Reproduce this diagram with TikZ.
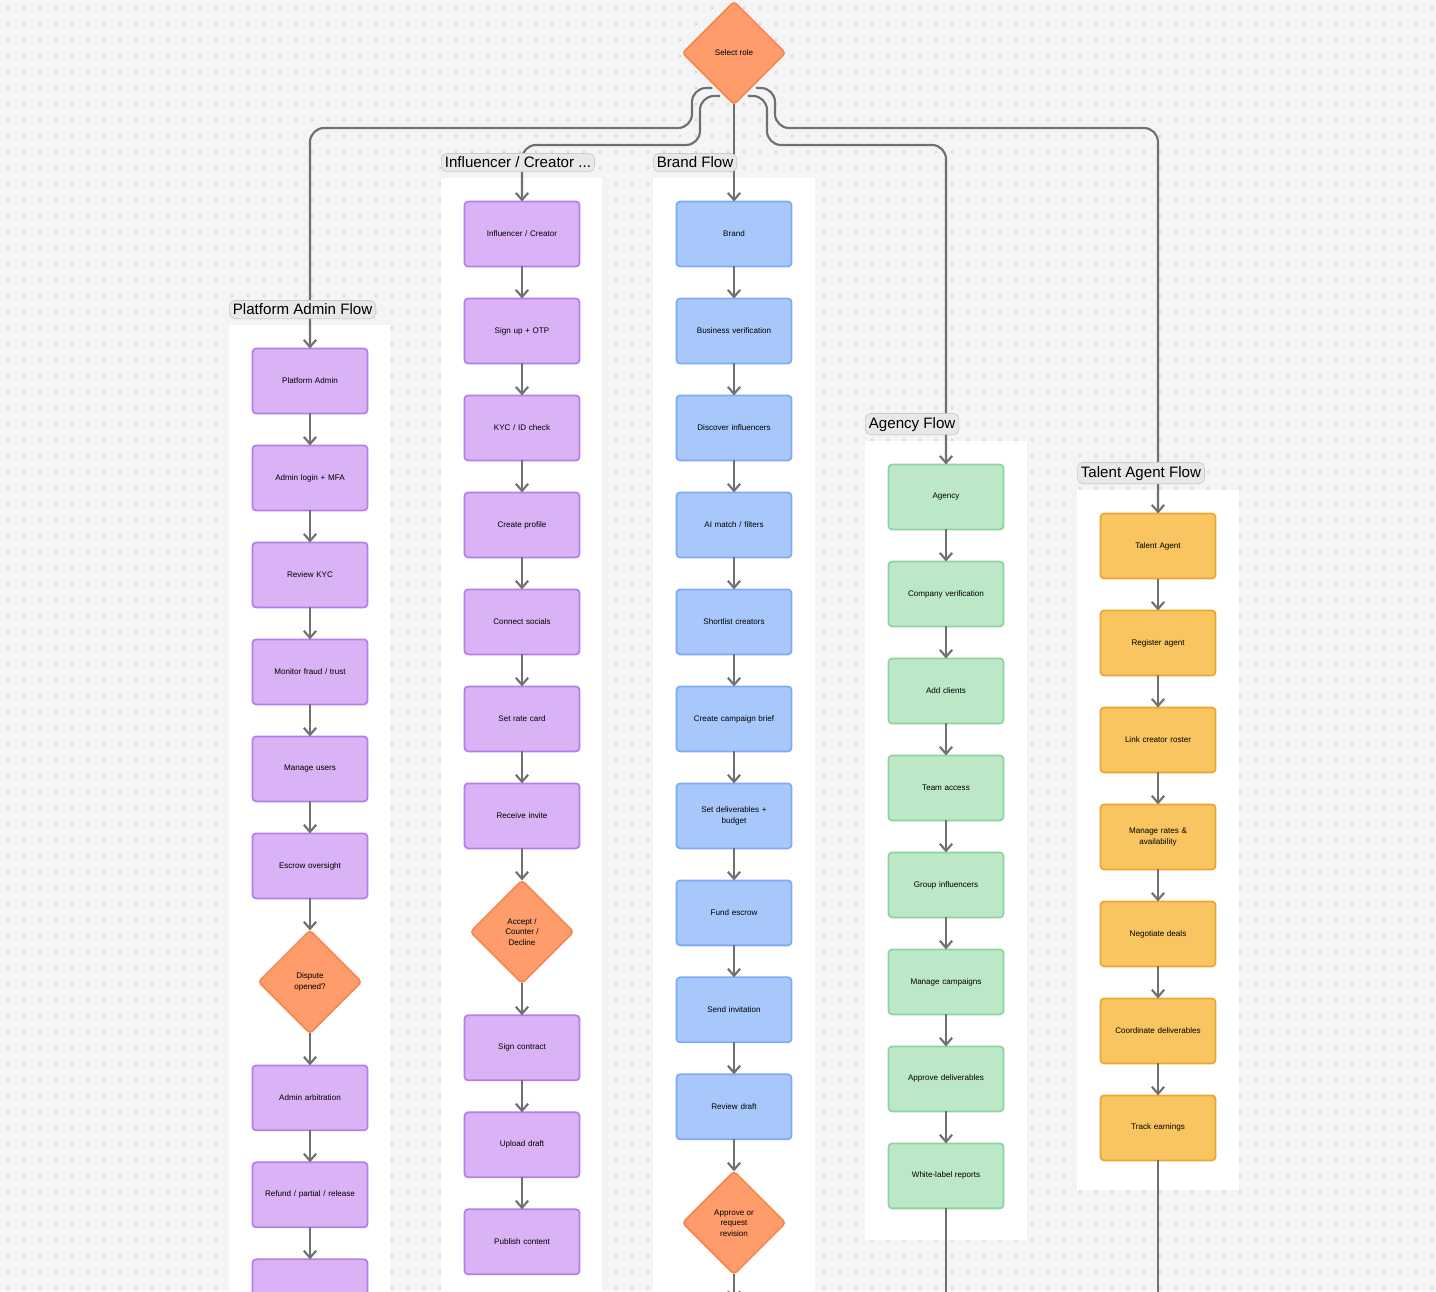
\documentclass[tikz,border=0pt]{standalone}
\usepackage{fontspec}
\setmainfont{Liberation Sans}
\usetikzlibrary{positioning,shapes.geometric,arrows.meta}
\definecolor{bgc}{HTML}{F4F4F4}
\definecolor{purp}{HTML}{D9B3F5}\definecolor{purpd}{HTML}{B57FE8}
\definecolor{blu}{HTML}{A8C8FC}\definecolor{blud}{HTML}{7FAAF5}
\definecolor{grn}{HTML}{BDE8C8}\definecolor{grnd}{HTML}{8DD4A0}
\definecolor{yel}{HTML}{F8C561}\definecolor{yeld}{HTML}{E8A830}
\definecolor{org}{HTML}{FF9C6C}\definecolor{orgd}{HTML}{F58850}
\definecolor{wire}{HTML}{707070}
\tikzset{
  card/.style={rectangle, rounded corners=2pt, line width=1pt, minimum width=2.3cm,
    minimum height=1.3cm, inner sep=1pt, outer sep=0pt, align=center, text width=2.1cm,
    font=\fontsize{4.6}{6}\selectfont},
  admin/.style={card, fill=purp, draw=purpd},
  brand/.style={card, fill=blu, draw=blud},
  agency/.style={card, fill=grn, draw=grnd},
  talent/.style={card, fill=yel, draw=yeld},
  choice/.style={diamond, fill=org, draw=orgd, line width=1pt, rounded corners=2pt,
    minimum width=2.06cm, minimum height=2.06cm, inner sep=0pt, outer sep=0pt, align=center,
    font=\fontsize{4.6}{6}\selectfont},
  lane/.style={fill=white, draw=none},
  tab/.style={rectangle, rounded corners=3pt, fill=gray!18, draw=gray!40, inner sep=2pt,
    font=\fontsize{8.6}{10}\selectfont, anchor=south west},
  flow/.style={draw=wire, line width=1.2pt, rounded corners=8pt},
  arr/.style={flow, -{Straight Barb[length=4pt,width=7pt]}},
  node distance=0.64cm
}
\begin{document}
\begin{tikzpicture}[x=0.02cm,y=-0.02cm]
  \useasboundingbox (0,0) rectangle (1436,1291);
  \clip (0,0) rectangle (1436,1291);
  \fill[bgc] (0,0) rectangle (1436,1291);
  \foreach \gx in {8,24,...,1436}
    \foreach \gy in {8,24,...,1291}
      \fill[gray!45] (\gx,\gy) circle (0.6pt);

  % lanes
  \fill[lane] (229,325) rectangle (390,1300);
  \fill[lane] (441,178) rectangle (602,1300);
  \fill[lane] (653,178) rectangle (815,1300);
  \fill[lane] (865,441) rectangle (1027,1240);
  \fill[lane] (1077,490) rectangle (1239,1190);

  \node[choice] (role) at (734,53) {Select role};

  % platform admin
  \node[admin] (a1) at (310,381) {Platform Admin};
  \node[admin, below=of a1] (a2) {Admin login + MFA};
  \node[admin, below=of a2] (a3) {Review KYC};
  \node[admin, below=of a3] (a4) {Monitor fraud / trust};
  \node[admin, below=of a4] (a5) {Manage users};
  \node[admin, below=of a5] (a6) {Escrow oversight};
  \node[choice, below=of a6] (a7) {Dispute\\opened?};
  \node[admin, below=of a7] (a8) {Admin arbitration};
  \node[admin, below=of a8] (a9) {Refund / partial / release};
  \node[admin, below=of a9] (a10) {};

  % influencer
  \node[admin] (i1) at (522,234) {Influencer / Creator};
  \node[admin, below=of i1] (i2) {Sign up + OTP};
  \node[admin, below=of i2] (i3) {KYC / ID check};
  \node[admin, below=of i3] (i4) {Create profile};
  \node[admin, below=of i4] (i5) {Connect socials};
  \node[admin, below=of i5] (i6) {Set rate card};
  \node[admin, below=of i6] (i7) {Receive invite};
  \node[choice, below=of i7] (i8) {Accept /\\Counter /\\Decline};
  \node[admin, below=of i8] (i9) {Sign contract};
  \node[admin, below=of i9] (i10) {Upload draft};
  \node[admin, below=of i10] (i11) {Publish content};

  % brand
  \node[brand] (b1) at (734,234) {Brand};
  \node[brand, below=of b1] (b2) {Business verification};
  \node[brand, below=of b2] (b3) {Discover influencers};
  \node[brand, below=of b3] (b4) {AI match / filters};
  \node[brand, below=of b4] (b5) {Shortlist creators};
  \node[brand, below=of b5] (b6) {Create campaign brief};
  \node[brand, below=of b6] (b7) {Set deliverables +\\budget};
  \node[brand, below=of b7] (b8) {Fund escrow};
  \node[brand, below=of b8] (b9) {Send invitation};
  \node[brand, below=of b9] (b10) {Review draft};
  \node[choice, below=of b10] (b11) {Approve or\\request\\revision};
  \coordinate (bend) at (734,1300);

  % agency
  \node[agency] (g1) at (946,497) {Agency};
  \node[agency, below=of g1] (g2) {Company verification};
  \node[agency, below=of g2] (g3) {Add clients};
  \node[agency, below=of g3] (g4) {Team access};
  \node[agency, below=of g4] (g5) {Group influencers};
  \node[agency, below=of g5] (g6) {Manage campaigns};
  \node[agency, below=of g6] (g7) {Approve deliverables};
  \node[agency, below=of g7] (g8) {White-label reports};
  \coordinate (gend) at (946,1300);

  % talent agent
  \node[talent] (t1) at (1158,546) {Talent Agent};
  \node[talent, below=of t1] (t2) {Register agent};
  \node[talent, below=of t2] (t3) {Link creator roster};
  \node[talent, below=of t3] (t4) {Manage rates \&\\availability};
  \node[talent, below=of t4] (t5) {Negotiate deals};
  \node[talent, below=of t5] (t6) {Coordinate deliverables};
  \node[talent, below=of t6] (t7) {Track earnings};
  \coordinate (tend) at (1158,1300);

  % chains
  \foreach \u/\v in {a1/a2,a2/a3,a3/a4,a4/a5,a5/a6,a6/a7,a7/a8,a8/a9,a9/a10,
      i1/i2,i2/i3,i3/i4,i4/i5,i5/i6,i6/i7,i7/i8,i8/i9,i9/i10,i10/i11,
      b1/b2,b2/b3,b3/b4,b4/b5,b5/b6,b6/b7,b7/b8,b8/b9,b9/b10,b10/b11,b11/bend,
      g1/g2,g2/g3,g3/g4,g4/g5,g5/g6,g6/g7,g7/g8,
      t1/t2,t2/t3,t3/t4,t4/t5,t5/t6,t6/t7}
    \draw[arr] (\u) -- (\v);
  \draw[flow] (g8) -- (gend);
  \draw[flow] (t7) -- (tend);

  % role routing
  \coordinate (r1) at (712,88);
  \coordinate (r2) at (720,96);
  \coordinate (r3) at (756,88);
  \coordinate (r4) at (748,96);
  \draw[arr] (r1) -- (692,88) -- (692,128) -- (310,128) -- (a1);
  \draw[arr] (r2) -- (700,96) -- (700,145) -- (522,145) -- (i1);
  \draw[arr] (role) -- (b1);
  \draw[arr] (r4) -- (767,96) -- (767,145) -- (946,145) -- (g1);
  \draw[arr] (r3) -- (775,88) -- (775,128) -- (1158,128) -- (t1);

  % lane titles
  \node[tab] (ta) at (229,319) {Platform Admin Flow};
  \node[tab] (ti) at (441,172) {Influencer / Creator ...};
  \node[tab] (tb) at (653,172) {Brand Flow};
  \node[tab] (tg) at (865,435) {Agency Flow};
  \node[tab] (tt) at (1077,484) {Talent Agent Flow};
\end{tikzpicture}
\end{document}
